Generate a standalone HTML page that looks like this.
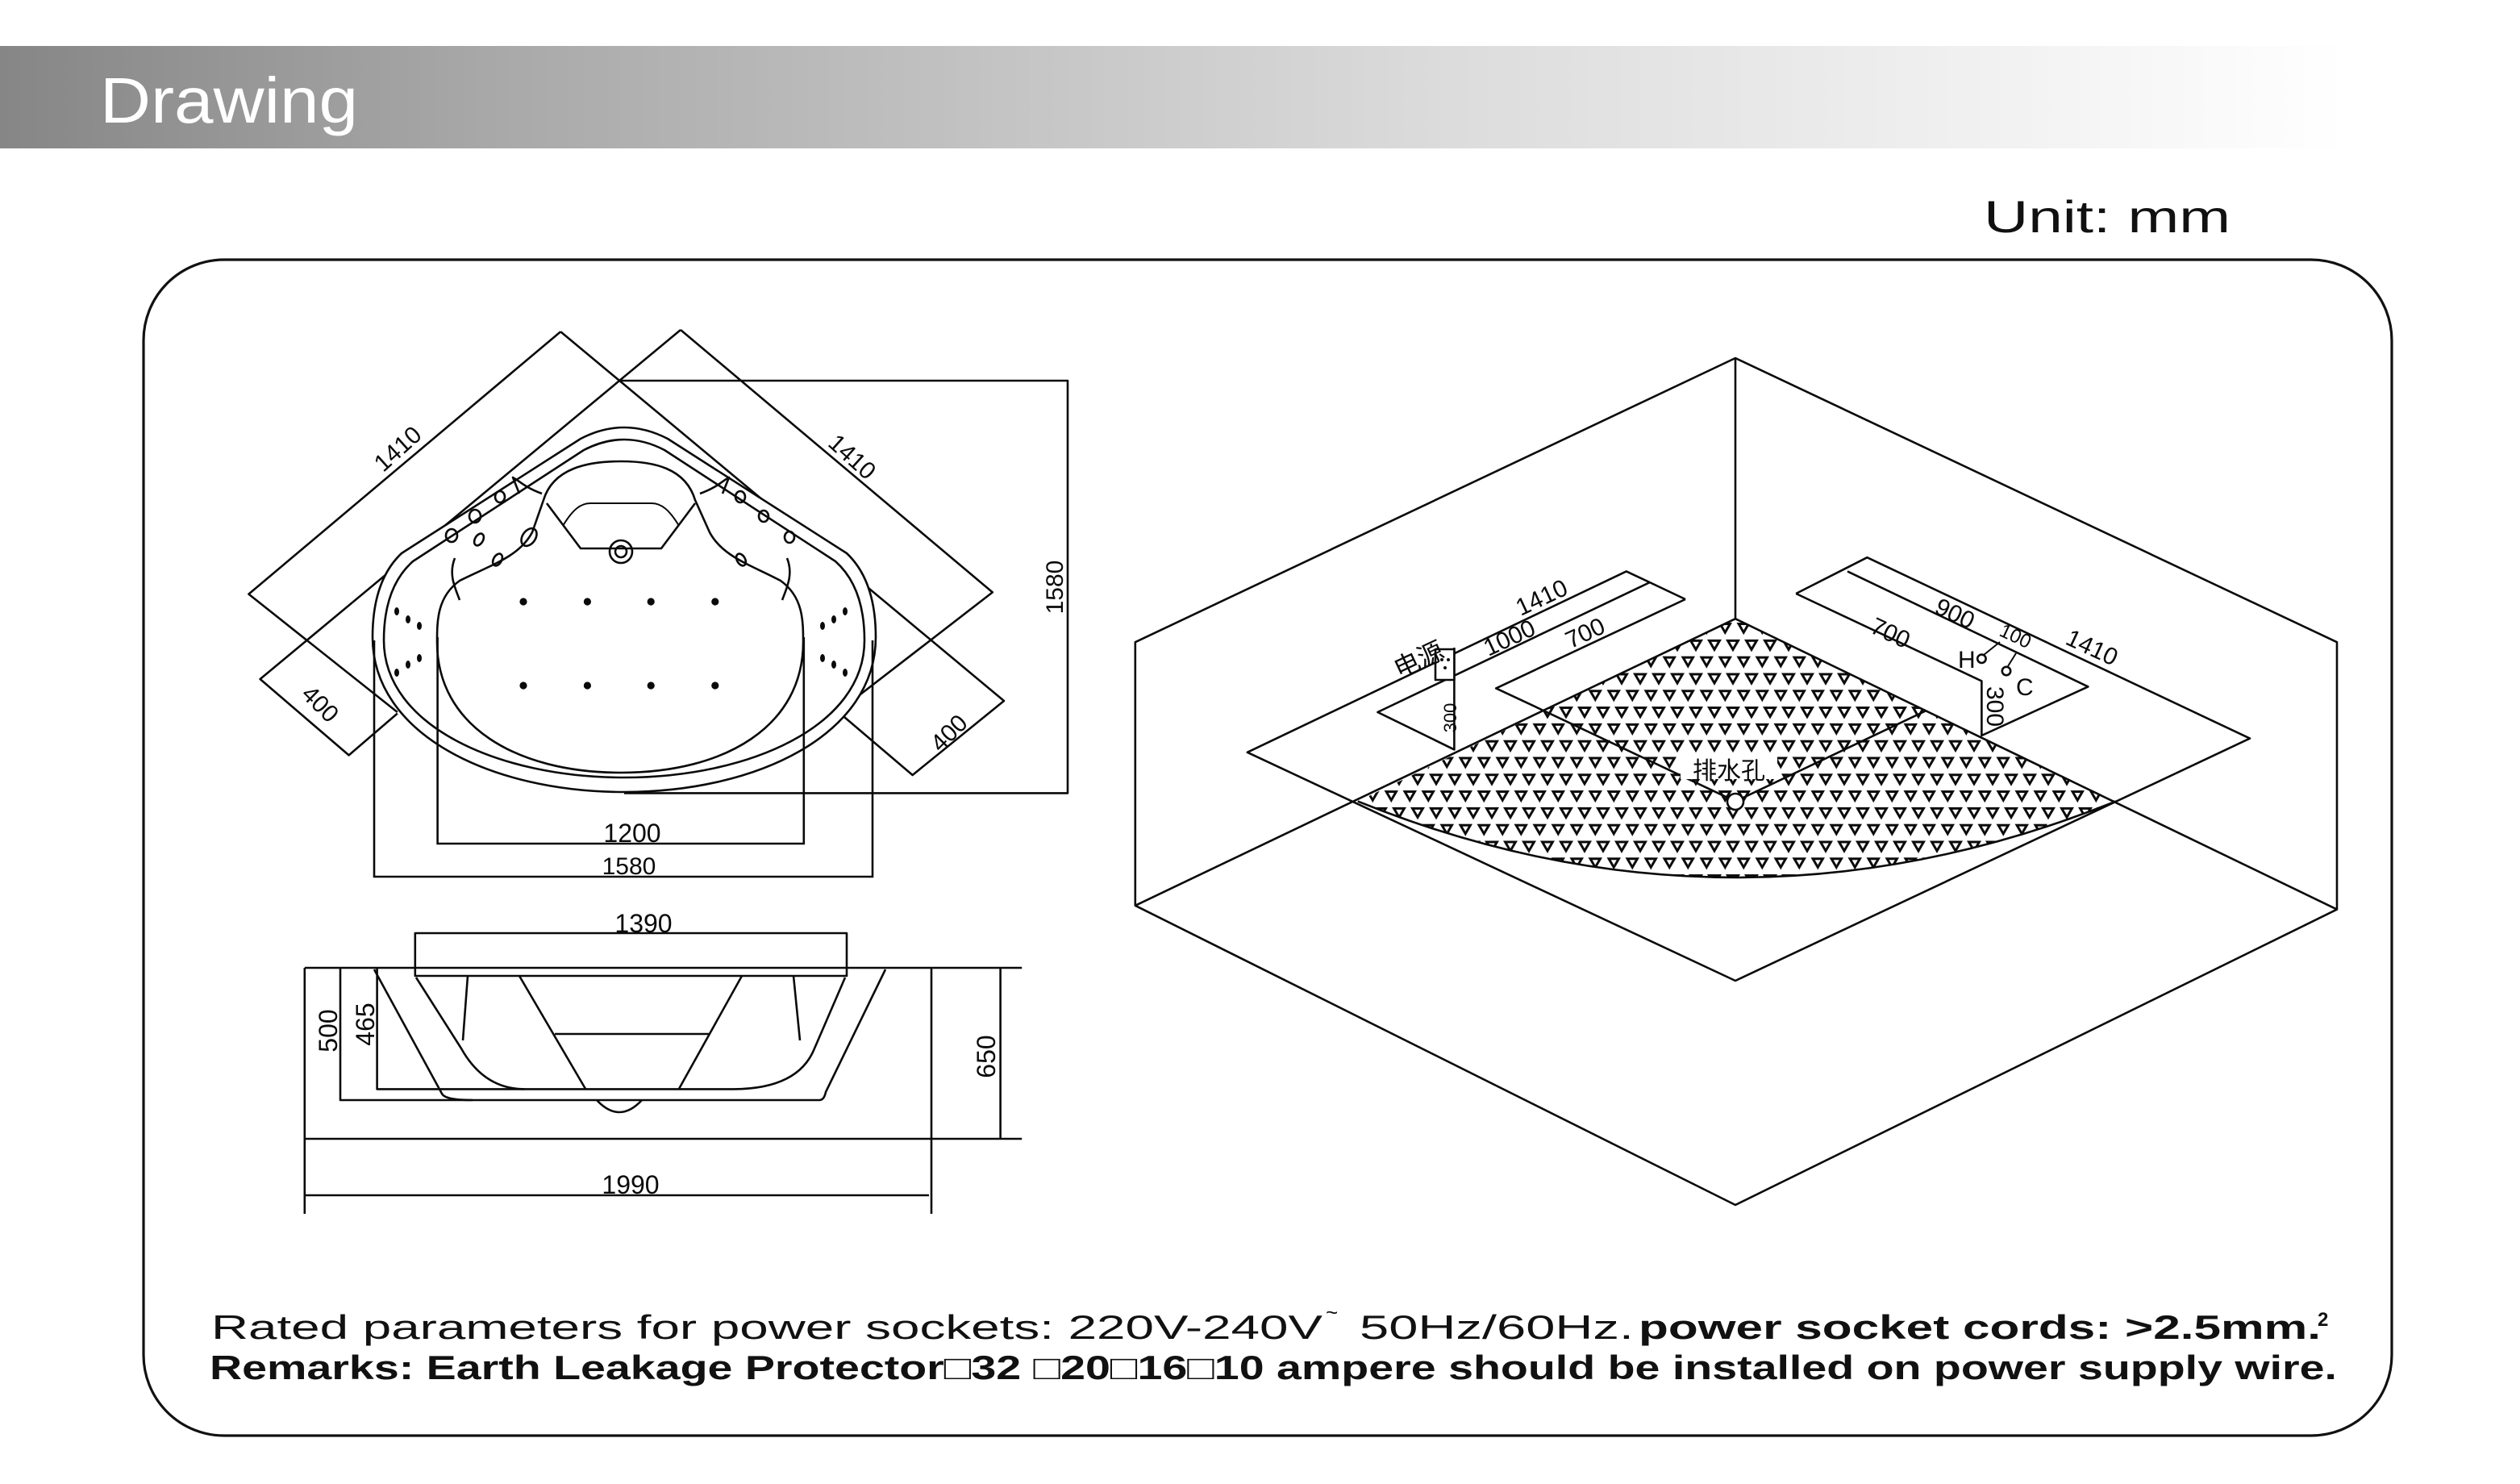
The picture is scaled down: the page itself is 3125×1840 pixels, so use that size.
<!DOCTYPE html>
<html><head><meta charset="utf-8"><style>
html,body{margin:0;padding:0;background:#fff;}
svg{display:block;}
</style></head><body>
<svg width="3125" height="1840" viewBox="0 0 1562.5 920" xmlns="http://www.w3.org/2000/svg">
<defs>
<linearGradient id="hg" x1="0" x2="1" y1="0" y2="0">
<stop offset="0" stop-color="#868686"/><stop offset="0.2" stop-color="#a8a8a8"/><stop offset="0.6" stop-color="#dcdcdc"/><stop offset="0.97" stop-color="#ffffff"/></linearGradient>
<pattern id="tri" x="0" y="0" width="11.5" height="20.8" patternUnits="userSpaceOnUse">
<path d="M1.8,2 L8.2,2 L5,7.5 Z M8.55,12.4 L14.95,12.4 L11.75,17.9 Z M-3.2,12.4 L3.2,12.4 L0,17.9 Z" fill="none" stroke="#0a0a0a" stroke-width="1.5"/>
</pattern>
</defs>
<rect x="0" y="0" width="1562.5" height="920" fill="#fff"/>
<rect x="0" y="28.5" width="1500" height="63.5" fill="url(#hg)"/>
<text x="62" y="76" font-family="Liberation Sans, sans-serif" font-size="40" fill="#fff" textLength="160" lengthAdjust="spacingAndGlyphs">Drawing</text>
<text x="1230" y="144" font-family="Liberation Sans, sans-serif" font-size="28" fill="#111" textLength="153" lengthAdjust="spacingAndGlyphs">Unit: mm</text>
<rect x="89" y="161" width="1394" height="729" rx="50" ry="50" fill="none" stroke="#111" stroke-width="1.6"/>

<g fill="none" stroke="#0a0a0a" stroke-width="1.3" stroke-linejoin="round">
<path d="M347.6,205.6 L154.2,368.3 L246.4,441.5"/>
<path d="M347.6,205.6 L622.5,434.5 L565.8,480.5 L519.6,441.2"/>
<path d="M422,204.5 L615.4,367.2 L519.6,441.2"/>
<path d="M422,204.5 L161.3,421 L216.3,468.2 L246.4,442.3"/>
<path d="M384.8,236 L662,236 L662,491.7 L387,491.7"/>
<path fill="#fff" d="M360,272 Q387,258 414,272 L525,343 Q543,360 543,395 C543,455 470,491 387,491 C304,491 231,455 231,395 Q231,360 249,343 Z"/>
<path d="M362,279 Q387,266 412,279 L518,348 Q536,364 536,397 C536,450 465,482 387,482 C309,482 238,450 238,397 Q238,364 256,348 Z"/>
<path d="M285,360 C271,370 271,385 271,398 C271,450 320,479 385,479 C450,479 498,450 498,398 C498,385 498,370 484,360 C465,350 448,345 440,330 L431,310 C425,290 405,286 385,286 C365,286 343,290 337,310 L330,330 C322,345 305,350 285,360 Z"/>
<path d="M339,312 L360,340 L410,340 L431,312"/>
<path d="M349,326 C355,316 360,312 366,312 L404,312 C410,312 415,316 421,326" stroke-width="1"/>
<circle cx="385" cy="342" r="7"/><circle cx="385" cy="342" r="3.5"/>
<path d="M336,306 C325,302 322,298 318,296 L322,306 M282,346 C278,356 282,364 285,372"/>
<path d="M434,306 C445,302 448,298 452,296 L448,306 M488,346 C492,356 488,364 485,372"/>
<ellipse cx="310" cy="308" rx="3" ry="3.5"/><ellipse cx="294.5" cy="320" rx="3.5" ry="4"/><ellipse cx="280" cy="332" rx="3.5" ry="4"/>
<ellipse cx="297" cy="334.5" rx="2.5" ry="4" transform="rotate(30 297 334.5)"/><ellipse cx="308.5" cy="347" rx="2.5" ry="4" transform="rotate(30 308.5 347)"/><ellipse cx="328" cy="333" rx="4" ry="6" transform="rotate(35 328 333)"/>
<ellipse cx="459" cy="308" rx="3" ry="3.5"/><ellipse cx="473.5" cy="320" rx="3" ry="3.5"/><ellipse cx="489.5" cy="333" rx="3" ry="3.5"/>
<ellipse cx="459.5" cy="347" rx="2.5" ry="4" transform="rotate(-30 459.5 347)"/>
</g>
<g fill="#0a0a0a">
<circle cx="324.5" cy="373" r="2.3"/><circle cx="364.2" cy="373" r="2.3"/><circle cx="403.6" cy="373" r="2.3"/><circle cx="443.4" cy="373" r="2.3"/>
<circle cx="324.5" cy="425" r="2.3"/><circle cx="364.2" cy="425" r="2.3"/><circle cx="403.6" cy="425" r="2.3"/><circle cx="443.4" cy="425" r="2.3"/>
<ellipse cx="246" cy="379" rx="1.5" ry="2.5"/><ellipse cx="253" cy="384" rx="1.5" ry="2.5"/><ellipse cx="260" cy="388" rx="1.5" ry="2.5"/>
<ellipse cx="246" cy="417" rx="1.5" ry="2.5"/><ellipse cx="253" cy="412" rx="1.5" ry="2.5"/><ellipse cx="260" cy="408" rx="1.5" ry="2.5"/>
<ellipse cx="524" cy="379" rx="1.5" ry="2.5"/><ellipse cx="517" cy="384" rx="1.5" ry="2.5"/><ellipse cx="510" cy="388" rx="1.5" ry="2.5"/>
<ellipse cx="524" cy="417" rx="1.5" ry="2.5"/><ellipse cx="517" cy="412" rx="1.5" ry="2.5"/><ellipse cx="510" cy="408" rx="1.5" ry="2.5"/>
</g>
<g fill="none" stroke="#0a0a0a" stroke-width="1.3">
<path d="M271.3,395 L271.3,523 L498.4,523 L498.4,395"/>
<path d="M232,397 L232,543.5 L541,543.5 L541,397"/>
</g>
<g font-family="Liberation Sans, sans-serif" font-size="15" fill="#0a0a0a">
<text x="392" y="522" text-anchor="middle" font-size="16">1200</text>
<text x="390" y="542" text-anchor="middle">1580</text>
<text transform="translate(250,282) rotate(-42)" text-anchor="middle">1410</text>
<text transform="translate(525,287) rotate(42)" text-anchor="middle">1410</text>
<text transform="translate(195,440) rotate(45)" text-anchor="middle">400</text>
<text transform="translate(592,458) rotate(-45)" text-anchor="middle">400</text>
<text transform="translate(659,364) rotate(-90)" text-anchor="middle">1580</text>
</g>

<g fill="none" stroke="#0a0a0a" stroke-width="1.3" stroke-linejoin="round">
<path d="M257.4,605 L257.4,578.5 L525,578.5 L525,605 Z"/>
<path d="M188.9,600 L633.6,600"/>
<path d="M188.9,600 L188.9,752.5 M188.9,706 L633.6,706 M188.9,741 L576,741 M577.5,600 L577.5,752.5 M620.3,600 L620.3,706"/>
<path d="M211,600 L211,682 L508,682 Q511,682 512,677 L549,601"/>
<path d="M233.8,600 L233.8,675.2 L455,675.2 Q495,675 505,650 L524,606"/>
<path d="M232,601 L274,678 Q276,682 293,682"/>
<path d="M258,606 L286,650 Q300,675 325,675.2"/>
<path d="M290,605 L287,645 M492,605 L496,645"/>
<path d="M322,605 L363,675 M460,605 L421,675 M344,641 L440,641"/>
<path d="M370,682 Q384,697 398,682"/>
</g>
<g font-family="Liberation Sans, sans-serif" font-size="16" fill="#0a0a0a">
<text x="399" y="578" text-anchor="middle">1390</text>
<text x="391" y="740" text-anchor="middle">1990</text>
<text transform="translate(209,639) rotate(-90)" text-anchor="middle">500</text>
<text transform="translate(232,635) rotate(-90)" text-anchor="middle">465</text>
<text transform="translate(617,655) rotate(-90)" text-anchor="middle">650</text>
</g>

<path d="M1076,383.6 L841.9,496.8 Q1076,591.2 1311.9,496.8 Z" fill="url(#tri)" stroke="none"/>
<g fill="none" stroke="#0a0a0a" stroke-width="1.3" stroke-linejoin="round">
<path d="M703.9,561.4 L703.9,398.1 L1076,222 L1449,398.1 L1449,563.8 L1076,747 Z"/>
<path d="M1076,222 L1076,383.6 M703.9,561.4 L1076,383.6 L1449,563.8"/>
<path d="M1045,371.5 L1008.4,354.2 L773.4,466.4 L1076,608 L1395,457.8 L1157.7,345.6 L1113.6,368"/>
<path d="M1023,361 L854.2,441.5 L901.7,464.7 L901.7,401.5"/>
<rect x="890" y="402.5" width="11.7" height="19" fill="#fff"/>
<path d="M1045,371.5 L927.6,426.7 L957,440.5 L1076,496.8 L1194.4,440.5"/>
<path d="M1113.6,368 L1228.7,422.2 L1228.7,456 L1294.7,425.7 L1145.5,354.2"/>
<path d="M841.9,496.8 Q1076,591.2 1311.9,496.8"/>
<circle cx="1076" cy="497" r="5" fill="#fff"/>
<circle cx="1228.7" cy="408.4" r="2.6" fill="#fff"/><circle cx="1244" cy="416" r="2.6" fill="#fff"/>
<path d="M1230,406 L1240,398 M1245,413 L1250,405" stroke-width="1"/>
</g>
<g fill="#111"><circle cx="894" cy="409" r="1"/><circle cx="898" cy="409" r="1"/><circle cx="896" cy="414" r="1"/></g>
<g font-family="Liberation Sans, 'Noto Sans CJK SC', sans-serif" font-size="15" fill="#0a0a0a">
<rect x="1042" y="467" width="60" height="16" fill="#fff"/>
<text x="1072" y="483" text-anchor="middle" font-size="15">排水孔</text>
<text transform="translate(958,375) rotate(-25)" text-anchor="middle">1410</text>
<text transform="translate(938,400) rotate(-25)" text-anchor="middle">1000</text>
<text transform="translate(985,397) rotate(-25)" text-anchor="middle">700</text>
<text transform="translate(882,414) rotate(-25)" text-anchor="middle" font-size="16">电源</text>
<text transform="translate(903,445) rotate(-90)" text-anchor="middle" font-size="11">300</text>
<text transform="translate(1210,385) rotate(25)" text-anchor="middle">900</text>
<text transform="translate(1248,398) rotate(25)" text-anchor="middle" font-size="12">100</text>
<text transform="translate(1295,406) rotate(25)" text-anchor="middle">1410</text>
<text transform="translate(1170,397) rotate(25)" text-anchor="middle">700</text>
<text x="1214" y="414" font-size="15">H</text>
<text x="1250" y="431" font-size="15">C</text>
<text transform="translate(1232,438) rotate(90)" text-anchor="middle">300</text>
</g>

<g font-family="Liberation Sans, sans-serif" fill="#111" font-size="21">
<text x="131" y="830" textLength="689" lengthAdjust="spacingAndGlyphs">Rated parameters for power sockets: 220V-240V</text>
<text x="822" y="818" font-size="13">~</text>
<text x="843" y="830" textLength="170" lengthAdjust="spacingAndGlyphs">50Hz/60Hz.</text>
<text x="1016" y="830" font-weight="bold" textLength="423" lengthAdjust="spacingAndGlyphs">power socket cords: &gt;2.5mm.</text>
<text x="1437" y="822" font-size="12" font-weight="bold">2</text>
<text x="130" y="855" font-weight="bold" textLength="1319" lengthAdjust="spacingAndGlyphs">Remarks:  Earth Leakage Protector□32 □20□16□10  ampere should be installed on power supply wire.</text>
</g>
</svg>
</body></html>
